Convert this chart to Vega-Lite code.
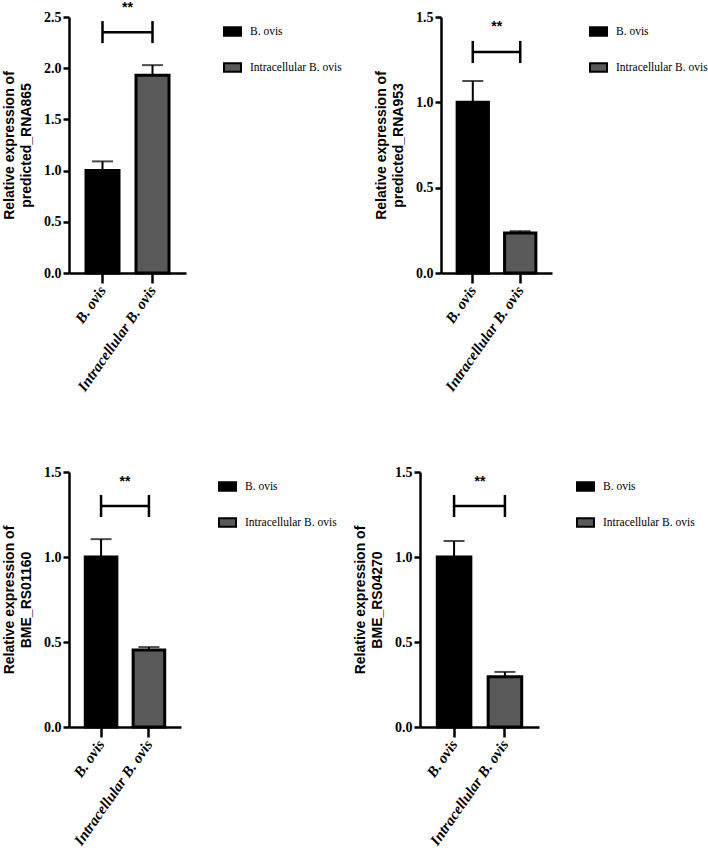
{
  "$schema": "https://vega.github.io/schema/vega-lite/v6.json",
  "background": "white",
  "padding": {"left": 2, "top": 0, "right": 0, "bottom": 5},
  "datasets": {
    "p1": [{"group": "B. ovis", "mean": 1.0, "upper": 1.09}, {"group": "Intracellular B. ovis", "mean": 1.93, "upper": 2.03}],
    "s1": [{"group": "B. ovis", "y": 2.35, "lo": 2.245, "hi": 2.46, "label": "**", "ly": 2.59}, {"group": "Intracellular B. ovis", "y": 2.35, "lo": 2.245, "hi": 2.46, "label": "", "ly": 2.59}],
    "p2": [{"group": "B. ovis", "mean": 1.0, "upper": 1.125}, {"group": "Intracellular B. ovis", "mean": 0.235, "upper": 0.245}],
    "s2": [{"group": "B. ovis", "y": 1.295, "lo": 1.23, "hi": 1.36, "label": "**", "ly": 1.44}, {"group": "Intracellular B. ovis", "y": 1.295, "lo": 1.23, "hi": 1.36, "label": "", "ly": 1.44}],
    "p3": [{"group": "B. ovis", "mean": 1.0, "upper": 1.105}, {"group": "Intracellular B. ovis", "mean": 0.453, "upper": 0.47}],
    "s3": [{"group": "B. ovis", "y": 1.3, "lo": 1.235, "hi": 1.365, "label": "**", "ly": 1.44}, {"group": "Intracellular B. ovis", "y": 1.3, "lo": 1.235, "hi": 1.365, "label": "", "ly": 1.44}],
    "p4": [{"group": "B. ovis", "mean": 1.0, "upper": 1.094}, {"group": "Intracellular B. ovis", "mean": 0.296, "upper": 0.324}],
    "s4": [{"group": "B. ovis", "y": 1.3, "lo": 1.235, "hi": 1.365, "label": "**", "ly": 1.44}, {"group": "Intracellular B. ovis", "y": 1.3, "lo": 1.235, "hi": 1.365, "label": "", "ly": 1.44}]
  },
  "spacing": 71,
  "resolve": {"scale": {"color": "independent", "y": "independent", "x": "independent"}, "legend": {"color": "independent"}},
  "vconcat": [
    {
      "spacing": 27,
      "resolve": {"scale": {"color": "independent", "y": "independent", "x": "independent"}, "legend": {"color": "independent"}},
      "hconcat": [
        {
          "width": 117, "height": 256,
          "layer": [
            {"data": {"name": "p1"}, "mark": {"type": "bar", "stroke": "black", "strokeWidth": 3},
             "encoding": {
               "x": {"field": "group", "type": "nominal", "sort": null, "scale": {"paddingInner": 0.34, "paddingOuter": 0.34}},
               "y": {"field": "mean", "type": "quantitative", "scale": {"domain": [0, 2.5], "nice": false}, "axis": {"title": ["Relative expression of", "predicted_RNA865"], "values": [0, 0.5, 1, 1.5, 2, 2.5]}},
               "color": {"field": "group", "type": "nominal", "sort": null, "scale": {"range": ["#000000", "#595959"]}, "legend": {"title": null}}
             }},
            {"data": {"name": "p1"}, "mark": {"type": "rule", "color": "black", "strokeWidth": 2},
             "encoding": {"x": {"field": "group", "type": "nominal", "sort": null}, "y": {"field": "mean", "type": "quantitative"}, "y2": {"field": "upper"}}},
            {"data": {"name": "p1"}, "mark": {"type": "tick", "color": "black", "size": 21, "thickness": 2},
             "encoding": {"x": {"field": "group", "type": "nominal", "sort": null}, "y": {"field": "upper", "type": "quantitative"}}},
            {"data": {"name": "s1"}, "mark": {"type": "line", "color": "black", "strokeWidth": 2.5},
             "encoding": {"x": {"field": "group", "type": "nominal", "sort": null}, "y": {"field": "y", "type": "quantitative"}}},
            {"data": {"name": "s1"}, "mark": {"type": "rule", "color": "black", "strokeWidth": 2.5},
             "encoding": {"x": {"field": "group", "type": "nominal", "sort": null}, "y": {"field": "lo", "type": "quantitative"}, "y2": {"field": "hi"}}},
            {"data": {"name": "s1"}, "mark": {"type": "text", "dx": 25, "font": "Liberation Sans", "fontWeight": "bold", "fontSize": 14, "color": "black"},
             "encoding": {"x": {"field": "group", "type": "nominal", "sort": null}, "y": {"field": "ly", "type": "quantitative"}, "text": {"field": "label"}}}
          ]
        },
        {
          "width": 111, "height": 256,
          "layer": [
            {"data": {"name": "p2"}, "mark": {"type": "bar", "stroke": "black", "strokeWidth": 3},
             "encoding": {
               "x": {"field": "group", "type": "nominal", "sort": null, "scale": {"paddingInner": 0.34, "paddingOuter": 0.34}},
               "y": {"field": "mean", "type": "quantitative", "scale": {"domain": [0, 1.5], "nice": false}, "axis": {"title": ["Relative expression of", "predicted_RNA953"], "values": [0, 0.5, 1, 1.5]}},
               "color": {"field": "group", "type": "nominal", "sort": null, "scale": {"range": ["#000000", "#595959"]}, "legend": {"title": null}}
             }},
            {"data": {"name": "p2"}, "mark": {"type": "rule", "color": "black", "strokeWidth": 2},
             "encoding": {"x": {"field": "group", "type": "nominal", "sort": null}, "y": {"field": "mean", "type": "quantitative"}, "y2": {"field": "upper"}}},
            {"data": {"name": "p2"}, "mark": {"type": "tick", "color": "black", "size": 21, "thickness": 2},
             "encoding": {"x": {"field": "group", "type": "nominal", "sort": null}, "y": {"field": "upper", "type": "quantitative"}}},
            {"data": {"name": "s2"}, "mark": {"type": "line", "color": "black", "strokeWidth": 2.5},
             "encoding": {"x": {"field": "group", "type": "nominal", "sort": null}, "y": {"field": "y", "type": "quantitative"}}},
            {"data": {"name": "s2"}, "mark": {"type": "rule", "color": "black", "strokeWidth": 2.5},
             "encoding": {"x": {"field": "group", "type": "nominal", "sort": null}, "y": {"field": "lo", "type": "quantitative"}, "y2": {"field": "hi"}}},
            {"data": {"name": "s2"}, "mark": {"type": "text", "dx": 24, "font": "Liberation Sans", "fontWeight": "bold", "fontSize": 14, "color": "black"},
             "encoding": {"x": {"field": "group", "type": "nominal", "sort": null}, "y": {"field": "ly", "type": "quantitative"}, "text": {"field": "label"}}}
          ]
        }
      ]
    },
    {
      "spacing": 11,
      "resolve": {"scale": {"color": "independent", "y": "independent", "x": "independent"}, "legend": {"color": "independent"}},
      "hconcat": [
        {
          "width": 112, "height": 255,
          "layer": [
            {"data": {"name": "p3"}, "mark": {"type": "bar", "stroke": "black", "strokeWidth": 3},
             "encoding": {
               "x": {"field": "group", "type": "nominal", "sort": null, "scale": {"paddingInner": 0.34, "paddingOuter": 0.34}},
               "y": {"field": "mean", "type": "quantitative", "scale": {"domain": [0, 1.5], "nice": false}, "axis": {"title": ["Relative expression of", "BME_RS01160"], "values": [0, 0.5, 1, 1.5]}},
               "color": {"field": "group", "type": "nominal", "sort": null, "scale": {"range": ["#000000", "#595959"]}, "legend": {"title": null}}
             }},
            {"data": {"name": "p3"}, "mark": {"type": "rule", "color": "black", "strokeWidth": 2},
             "encoding": {"x": {"field": "group", "type": "nominal", "sort": null}, "y": {"field": "mean", "type": "quantitative"}, "y2": {"field": "upper"}}},
            {"data": {"name": "p3"}, "mark": {"type": "tick", "color": "black", "size": 21, "thickness": 2},
             "encoding": {"x": {"field": "group", "type": "nominal", "sort": null}, "y": {"field": "upper", "type": "quantitative"}}},
            {"data": {"name": "s3"}, "mark": {"type": "line", "color": "black", "strokeWidth": 2.5},
             "encoding": {"x": {"field": "group", "type": "nominal", "sort": null}, "y": {"field": "y", "type": "quantitative"}}},
            {"data": {"name": "s3"}, "mark": {"type": "rule", "color": "black", "strokeWidth": 2.5},
             "encoding": {"x": {"field": "group", "type": "nominal", "sort": null}, "y": {"field": "lo", "type": "quantitative"}, "y2": {"field": "hi"}}},
            {"data": {"name": "s3"}, "mark": {"type": "text", "dx": 24, "font": "Liberation Sans", "fontWeight": "bold", "fontSize": 14, "color": "black"},
             "encoding": {"x": {"field": "group", "type": "nominal", "sort": null}, "y": {"field": "ly", "type": "quantitative"}, "text": {"field": "label"}}}
          ]
        },
        {
          "width": 119, "height": 255,
          "layer": [
            {"data": {"name": "p4"}, "mark": {"type": "bar", "stroke": "black", "strokeWidth": 3},
             "encoding": {
               "x": {"field": "group", "type": "nominal", "sort": null, "scale": {"paddingInner": 0.34, "paddingOuter": 0.34}},
               "y": {"field": "mean", "type": "quantitative", "scale": {"domain": [0, 1.5], "nice": false}, "axis": {"title": ["Relative expression of", "BME_RS04270"], "values": [0, 0.5, 1, 1.5]}},
               "color": {"field": "group", "type": "nominal", "sort": null, "scale": {"range": ["#000000", "#595959"]}, "legend": {"title": null}}
             }},
            {"data": {"name": "p4"}, "mark": {"type": "rule", "color": "black", "strokeWidth": 2},
             "encoding": {"x": {"field": "group", "type": "nominal", "sort": null}, "y": {"field": "mean", "type": "quantitative"}, "y2": {"field": "upper"}}},
            {"data": {"name": "p4"}, "mark": {"type": "tick", "color": "black", "size": 21, "thickness": 2},
             "encoding": {"x": {"field": "group", "type": "nominal", "sort": null}, "y": {"field": "upper", "type": "quantitative"}}},
            {"data": {"name": "s4"}, "mark": {"type": "line", "color": "black", "strokeWidth": 2.5},
             "encoding": {"x": {"field": "group", "type": "nominal", "sort": null}, "y": {"field": "y", "type": "quantitative"}}},
            {"data": {"name": "s4"}, "mark": {"type": "rule", "color": "black", "strokeWidth": 2.5},
             "encoding": {"x": {"field": "group", "type": "nominal", "sort": null}, "y": {"field": "lo", "type": "quantitative"}, "y2": {"field": "hi"}}},
            {"data": {"name": "s4"}, "mark": {"type": "text", "dx": 26, "font": "Liberation Sans", "fontWeight": "bold", "fontSize": 14, "color": "black"},
             "encoding": {"x": {"field": "group", "type": "nominal", "sort": null}, "y": {"field": "ly", "type": "quantitative"}, "text": {"field": "label"}}}
          ]
        }
      ]
    }
  ],
  "config": {
    "view": {"stroke": null},
    "axis": {"grid": false, "domainColor": "black", "domainWidth": 2.5, "tickColor": "black", "tickWidth": 2.5,
             "labelFont": "Liberation Serif", "labelFontWeight": "bold", "labelColor": "black", "labelFontSize": 14,
             "titleFont": "Liberation Sans", "titleFontWeight": "bold", "titleFontSize": 14, "titleColor": "black", "titleLineHeight": 17},
    "axisX": {"title": null, "tickSize": 10, "labelAngle": -55, "labelFontStyle": "italic", "labelFontSize": 15, "labelAlign": "right", "labelBaseline": "middle", "labelPadding": 4},
    "axisY": {"tickSize": 6, "format": ".1f", "titlePadding": 10, "labelPadding": 2},
    "legend": {"orient": "right", "offset": 32, "padding": 5, "labelFont": "Liberation Serif", "labelFontSize": 11.5, "labelColor": "black",
               "symbolType": "M-1,-0.5H1V0.5H-1Z", "symbolSize": 289, "symbolStrokeColor": "black", "symbolStrokeWidth": 2, "symbolOpacity": 1,
               "rowPadding": 18, "labelOffset": 8}
  }
}
